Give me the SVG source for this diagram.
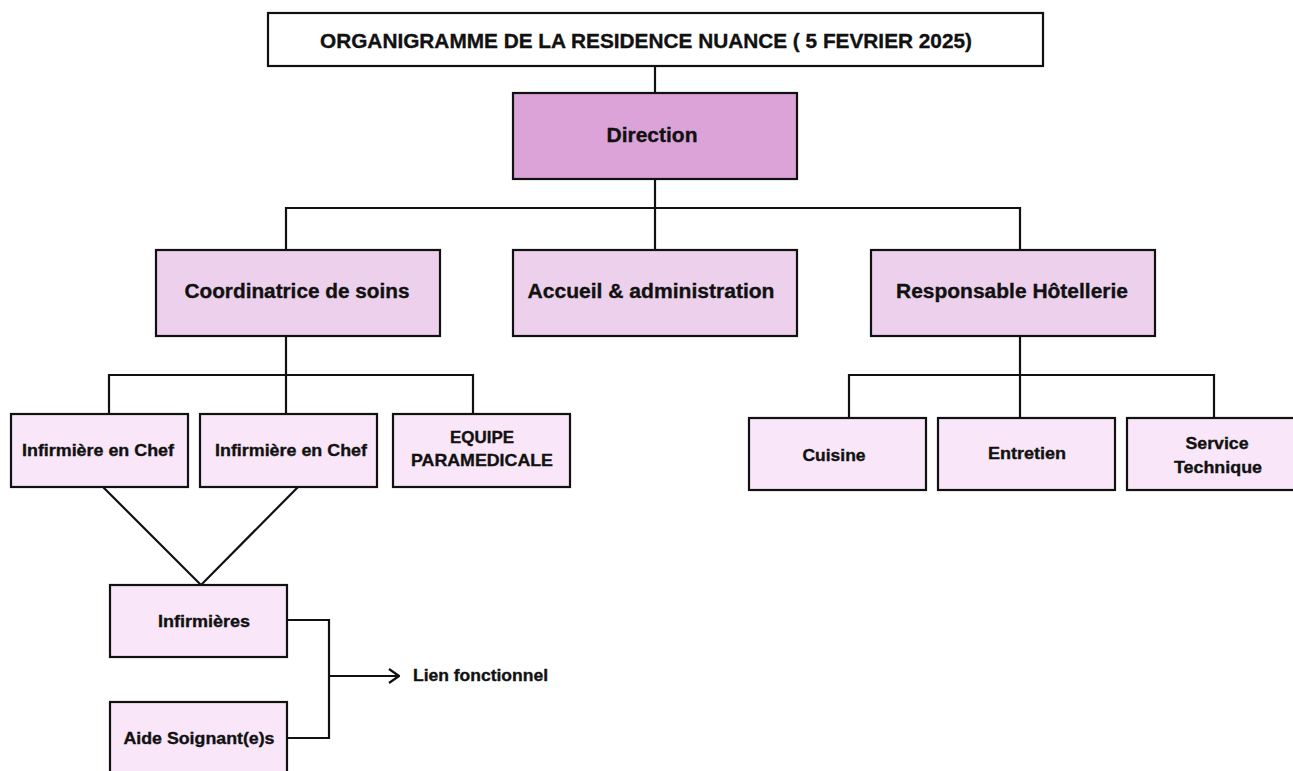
<svg xmlns="http://www.w3.org/2000/svg" width="1293" height="771" viewBox="0 0 1293 771">
<style>
  .box { stroke: #111; stroke-width: 2.2; }
  .title { fill: #ffffff; }
  .l1 { fill: #DBA3D8; }
  .l2 { fill: #EDD1EC; }
  .l3 { fill: #F9E6F8; }
  .t { font-family: "Liberation Sans", Arial, sans-serif; font-weight: bold; fill: #111; stroke: #111; stroke-width: 0.35; text-anchor: middle; dominant-baseline: central; }
  .conn { fill: none; stroke: #111; stroke-width: 2.2; }
</style>
<defs>
  <marker id="open" viewBox="0 0 12 16" refX="11" refY="8" markerWidth="12" markerHeight="16" markerUnits="userSpaceOnUse" orient="auto">
    <path d="M1,1 L11,8 L1,15" fill="none" stroke="#111" stroke-width="2.2"/>
  </marker>
</defs>
<rect width="1293" height="771" fill="#ffffff"/>
<g id="connectors">
  <line class="conn" x1="655" y1="66" x2="655" y2="93"/>
  <line class="conn" x1="655" y1="179" x2="655" y2="250"/>
  <polyline class="conn" points="286,250 286,208 1020,208 1020,250"/>
  <line class="conn" x1="286" y1="336" x2="286" y2="414"/>
  <polyline class="conn" points="109,414 109,375 473,375 473,414"/>
  <line class="conn" x1="1020" y1="336" x2="1020" y2="418"/>
  <polyline class="conn" points="849,418 849,375 1214,375 1214,418"/>
  <polyline class="conn" points="103,487 201,585 298,487"/>
  <polyline class="conn" points="287,620 329,620 329,738 287,738"/>
  <line class="conn" x1="329" y1="676" x2="399" y2="676" marker-end="url(#open)"/>
</g>
<g id="title">
  <rect class="box title" x="268" y="13" width="775" height="53"/>
  <text class="t" x="646" y="40" font-size="21" textLength="652" lengthAdjust="spacingAndGlyphs">ORGANIGRAMME DE LA RESIDENCE NUANCE ( 5 FEVRIER 2025)</text>
</g>
<g id="direction">
  <rect class="box l1" x="513" y="93" width="284" height="86"/>
  <text class="t" x="652" y="134" font-size="21" textLength="91" lengthAdjust="spacingAndGlyphs">Direction</text>
</g>
<g id="coordinatrice">
  <rect class="box l2" x="156" y="250" width="284" height="86"/>
  <text class="t" x="297" y="291" font-size="20" textLength="225" lengthAdjust="spacingAndGlyphs">Coordinatrice de soins</text>
</g>
<g id="accueil">
  <rect class="box l2" x="513" y="250" width="284" height="86"/>
  <text class="t" x="651" y="291" font-size="20" textLength="247" lengthAdjust="spacingAndGlyphs">Accueil &amp; administration</text>
</g>
<g id="hotellerie">
  <rect class="box l2" x="871" y="250" width="284" height="86"/>
  <text class="t" x="1012" y="291" font-size="20" textLength="232" lengthAdjust="spacingAndGlyphs">Responsable Hôtellerie</text>
</g>
<g id="infirmiere-chef-1">
  <rect class="box l3" x="11" y="414" width="177" height="73"/>
  <text class="t" x="98" y="450" font-size="16.5" textLength="152" lengthAdjust="spacingAndGlyphs">Infirmière en Chef</text>
</g>
<g id="infirmiere-chef-2">
  <rect class="box l3" x="200" y="414" width="177" height="73"/>
  <text class="t" x="291" y="450" font-size="16.5" textLength="152" lengthAdjust="spacingAndGlyphs">Infirmière en Chef</text>
</g>
<g id="equipe-paramedicale">
  <rect class="box l3" x="393" y="414" width="177" height="73"/>
  <text class="t" x="482" y="437" font-size="16.5" textLength="64" lengthAdjust="spacingAndGlyphs">EQUIPE</text>
  <text class="t" x="482" y="460" font-size="16.5" textLength="142" lengthAdjust="spacingAndGlyphs">PARAMEDICALE</text>
</g>
<g id="infirmieres">
  <rect class="box l3" x="110" y="585" width="177" height="72"/>
  <text class="t" x="204" y="621" font-size="16.5" textLength="92" lengthAdjust="spacingAndGlyphs">Infirmières</text>
</g>
<g id="aide-soignants">
  <rect class="box l3" x="110" y="702" width="177" height="80"/>
  <text class="t" x="199" y="738" font-size="16.5" textLength="151" lengthAdjust="spacingAndGlyphs">Aide Soignant(e)s</text>
</g>
<g id="lien-fonctionnel">
  <text class="t" x="413" y="675" font-size="16.5" style="text-anchor:start" textLength="135" lengthAdjust="spacingAndGlyphs">Lien fonctionnel</text>
</g>
<g id="cuisine">
  <rect class="box l3" x="749" y="418" width="177" height="72"/>
  <text class="t" x="834" y="455" font-size="16.5" textLength="63" lengthAdjust="spacingAndGlyphs">Cuisine</text>
</g>
<g id="entretien">
  <rect class="box l3" x="938" y="418" width="177" height="72"/>
  <text class="t" x="1027" y="453" font-size="16.5" textLength="78" lengthAdjust="spacingAndGlyphs">Entretien</text>
</g>
<g id="service-technique">
  <rect class="box l3" x="1127" y="418" width="177" height="72"/>
  <text class="t" x="1217" y="443" font-size="16.5" textLength="63" lengthAdjust="spacingAndGlyphs">Service</text>
  <text class="t" x="1218" y="467" font-size="16.5" textLength="88" lengthAdjust="spacingAndGlyphs">Technique</text>
</g>
</svg>
